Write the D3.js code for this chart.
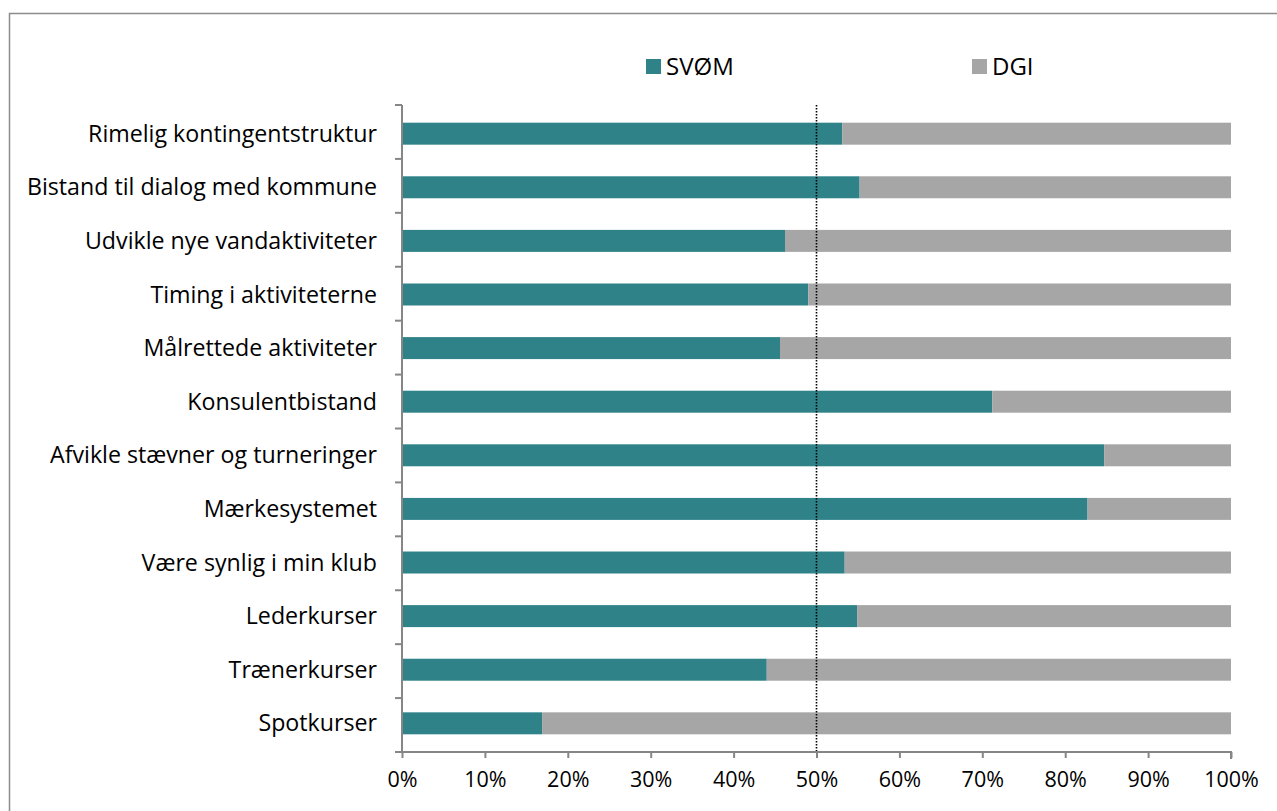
<!DOCTYPE html>
<html>
<head>
<meta charset="utf-8">
<script src="https://cdn.jsdelivr.net/npm/d3@7"></script>
<style>
  body { margin: 0; background: #fff; }
  svg { display: block; font-family: "Open Sans", sans-serif; }
</style>
</head>
<body>
<svg></svg>
<script>
let categories = ["Rimelig kontingentstruktur", "Bistand til dialog med kommune", "Udvikle nye vandaktiviteter",
  "Timing i aktiviteterne", "Målrettede aktiviteter", "Konsulentbistand", "Afvikle stævner og turneringer",
  "Mærkesystemet", "Være synlig i min klub", "Lederkurser", "Trænerkurser", "Spotkurser"]
let svom = [0.531, 0.552, 0.462, 0.490, 0.456, 0.712, 0.847, 0.827, 0.534, 0.549, 0.440, 0.169]
let dgi = svom.map(v => 1 - v)
let seriesNames = ["SVØM", "DGI"]
let seriesColors = ["#2E8288", "#A6A6A6"]
let xTicks = [0, 0.1, 0.2, 0.3, 0.4, 0.5, 0.6, 0.7, 0.8, 0.9, 1]

let width = 1277
let height = 811
let plotLeft = 402, plotRight = 1231, plotTop = 105, plotBottom = 752

let svg = d3.select("svg").attr("width", width).attr("height", height)

// chart frame (cut off by the window)
svg.append("rect")
  .attr("x", 9.5).attr("y", 13.5)
  .attr("width", 1300).attr("height", 900)
  .attr("fill", "none").attr("stroke", "#8c8c8c").attr("stroke-width", 1.5)

let xScale = d3.scaleLinear().domain([0, 1]).range([plotLeft, plotRight])
let yScale = d3.scaleBand().domain(categories).range([plotTop, plotBottom]).paddingInner(0.59).paddingOuter(0.33)

let rows = categories.map((c, i) => ({ cat: c, a: svom[i], b: dgi[i] }))

let g = svg.append("g")
rows.forEach(r => {
  g.append("rect")
    .attr("x", xScale(0)).attr("y", yScale(r.cat))
    .attr("width", xScale(r.a) - xScale(0)).attr("height", yScale.bandwidth())
    .attr("fill", seriesColors[0])
  g.append("rect")
    .attr("x", xScale(r.a)).attr("y", yScale(r.cat))
    .attr("width", xScale(r.a + r.b) - xScale(r.a)).attr("height", yScale.bandwidth())
    .attr("fill", seriesColors[1])
})

// 50% dotted line
svg.append("line")
  .attr("x1", xScale(0.5)).attr("x2", xScale(0.5))
  .attr("y1", plotTop).attr("y2", plotBottom)
  .attr("stroke", "#000").attr("stroke-width", 1.6).attr("stroke-dasharray", "1.6,1.4")

// x axis
let xAxis = d3.axisBottom(xScale).tickValues(xTicks).tickFormat(d3.format(".0%")).tickSize(6).tickPadding(14)
let gx = svg.append("g").attr("transform", "translate(0," + plotBottom + ")").call(xAxis)
gx.select(".domain").attr("stroke", "#868686").attr("stroke-width", 2).attr("d", "M" + plotLeft + ",0H" + plotRight + "V7")
gx.selectAll(".tick line").attr("stroke", "#868686").attr("stroke-width", 2)
gx.selectAll(".tick text").attr("font-size", 21.5).attr("fill", "#000").attr("font-family", "'Open Sans', sans-serif")

// y axis: tick marks between categories
let gy = svg.append("g")
gy.append("line").attr("x1", plotLeft).attr("x2", plotLeft).attr("y1", plotTop).attr("y2", plotBottom)
  .attr("stroke", "#868686").attr("stroke-width", 2)
d3.range(categories.length + 1).forEach(i => {
  let y = plotTop + i * (plotBottom - plotTop) / categories.length
  gy.append("line").attr("x1", plotLeft - 7).attr("x2", plotLeft).attr("y1", y).attr("y2", y)
    .attr("stroke", "#868686").attr("stroke-width", 2)
})
rows.forEach(r => {
  gy.append("text")
    .attr("x", 377).attr("y", yScale(r.cat) + yScale.bandwidth() / 2)
    .attr("dy", "0.35em").attr("text-anchor", "end")
    .attr("font-size", 23.2).attr("fill", "#000")
    .text(r.cat)
})

// legend
let legendX = [646, 972]
seriesNames.forEach((n, i) => {
  svg.append("rect").attr("x", legendX[i]).attr("y", 59).attr("width", 15).attr("height", 15).attr("fill", seriesColors[i])
  svg.append("text").attr("x", legendX[i] + 20).attr("y", 66.5).attr("dy", "0.36em")
    .attr("font-size", 24).attr("fill", "#000").text(n)
})
</script>
</body>
</html>
